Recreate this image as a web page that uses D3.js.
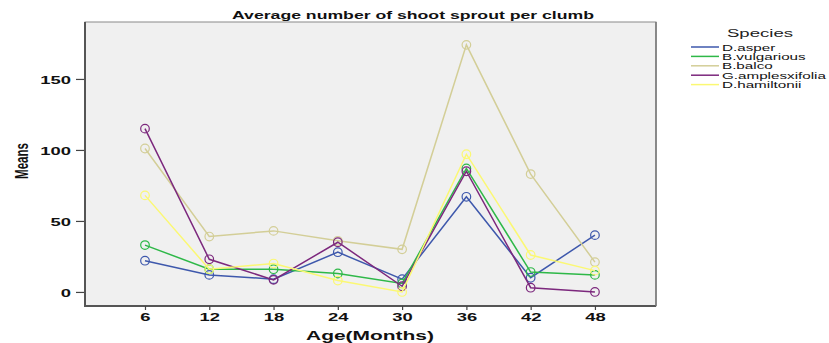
<!DOCTYPE html>
<html><head><meta charset="utf-8">
<script src="https://cdn.jsdelivr.net/npm/d3@7"></script>
<style>body{margin:0;background:#fff}</style>
</head><body>
<svg id="c" width="829" height="343"></svg>
<script>
const ages = [6, 12, 18, 24, 30, 36, 42, 48];
const species = ["D.asper", "B.vulgarious", "B.balco", "G.amplesxifolia", "D.hamiltonii"];
const colors = ["#3E58AC", "#2EB848", "#D3CE97", "#7C287D", "#FBF873"];
const dAsper = [22, 12, 9, 28, 9, 67, 10, 40];
const bVulgarious = [33, 16, 16, 13, 6, 87, 14, 12];
const bBalco = [101, 39, 43, 36, 30, 174, 83, 21];
const gAmplesxifolia = [115, 23, 8.5, 35, 4, 85, 3, 0];
const dHamiltonii = [68, 16, 20, 8, 0, 97, 26, 15];
const yTicks = [0, 50, 100, 150];
const seriesValues = [dAsper, bVulgarious, bBalco, gAmplesxifolia, dHamiltonii];

const FONT = "Liberation Sans, Arial, sans-serif";
function stretch(sel, f) {
  sel.each(function () {
    const w = this.getComputedTextLength();
    d3.select(this).attr("textLength", w * f).attr("lengthAdjust", "spacingAndGlyphs");
  });
}

const svg = d3.select("#c");
const L = 85, R = 656, T = 22, B = 306;
const x = d3.scaleLinear().domain([0.4, 53.7]).range([L, R]);
const y = d3.scaleLinear().domain([-9.9, 190.1]).range([B, T]);

svg.append("rect").attr("x", L).attr("y", T).attr("width", R - L).attr("height", B - T)
  .attr("fill", "#f0f0f0").attr("stroke", "#8a8a8a").attr("stroke-width", 1);
svg.append("line").attr("x1", L).attr("x2", L).attr("y1", T).attr("y2", B + 1).attr("stroke", "#555").attr("stroke-width", 2);
svg.append("line").attr("x1", L).attr("x2", R).attr("y1", B).attr("y2", B).attr("stroke", "#555").attr("stroke-width", 2);
svg.append("line").attr("x1", R).attr("x2", R).attr("y1", T).attr("y2", B).attr("stroke", "#777").attr("stroke-width", 1.5);

const yAxis = svg.append("g").attr("transform", `translate(${L - 1},0)`)
  .call(d3.axisLeft(y).tickValues(yTicks).tickSize(8).tickPadding(5));
yAxis.select(".domain").remove();
yAxis.selectAll("line").attr("stroke", "#444").attr("stroke-width", 1.2);
yAxis.selectAll("text").attr("font-family", FONT).attr("font-weight", "bold")
  .attr("font-size", 11.5).attr("fill", "#111").attr("dy", "0.36em");
stretch(yAxis.selectAll("text"), 1.6);

const xAxis = svg.append("g").attr("transform", `translate(0,${B})`)
  .call(d3.axisBottom(x).tickValues(ages).tickSize(4).tickPadding(3));
xAxis.select(".domain").remove();
xAxis.selectAll("line").attr("stroke", "#444").attr("stroke-width", 1.2);
xAxis.selectAll("text").attr("font-family", FONT).attr("font-weight", "bold")
  .attr("font-size", 11.5).attr("fill", "#111");
stretch(xAxis.selectAll("text"), 1.6);

const line = d3.line().x((d, i) => x(ages[i])).y(d => y(d));
seriesValues.forEach((vals, k) => {
  const g = svg.append("g");
  g.append("path").datum(vals).attr("d", line).attr("fill", "none")
    .attr("stroke", colors[k]).attr("stroke-width", 1.5);
  g.selectAll("circle").data(vals).join("circle")
    .attr("cx", (d, i) => x(ages[i])).attr("cy", d => y(d)).attr("r", 4.3)
    .attr("fill", "none").attr("stroke", colors[k]).attr("stroke-width", 1.2);
});

svg.append("text").attr("x", 413).attr("y", 19).attr("text-anchor", "middle")
  .attr("font-family", FONT).attr("font-weight", "bold").attr("font-size", 10)
  .attr("textLength", 362).attr("lengthAdjust", "spacingAndGlyphs")
  .attr("fill", "#111").text("Average number of shoot sprout per clumb");

svg.append("text").attr("x", 370).attr("y", 340).attr("text-anchor", "middle")
  .attr("font-family", FONT).attr("font-weight", "bold").attr("font-size", 12)
  .attr("textLength", 128).attr("lengthAdjust", "spacingAndGlyphs")
  .attr("fill", "#111").text("Age(Months)");

svg.append("text").attr("transform", "translate(28,161) rotate(-90)").attr("text-anchor", "middle")
  .attr("font-family", FONT).attr("font-weight", "bold").attr("font-size", 18)
  .attr("textLength", 36).attr("lengthAdjust", "spacingAndGlyphs")
  .attr("fill", "#111").text("Means");

svg.append("text").attr("x", 760).attr("y", 37).attr("text-anchor", "middle")
  .attr("font-family", FONT).attr("font-size", 10)
  .attr("textLength", 66).attr("lengthAdjust", "spacingAndGlyphs")
  .attr("fill", "#222").text("Species");

const leg = svg.append("g");
species.forEach((s, i) => {
  const yy = 47 + i * 9.4;
  leg.append("line").attr("x1", 691).attr("x2", 719).attr("y1", yy).attr("y2", yy)
    .attr("stroke", colors[i]).attr("stroke-width", 1.5);
  const t = leg.append("text").attr("x", 722).attr("y", yy + 3.5)
    .attr("font-family", FONT).attr("font-size", 9.5)
    .attr("fill", "#111").text(s);
  stretch(t, 1.6);
});
</script>
</body></html>
